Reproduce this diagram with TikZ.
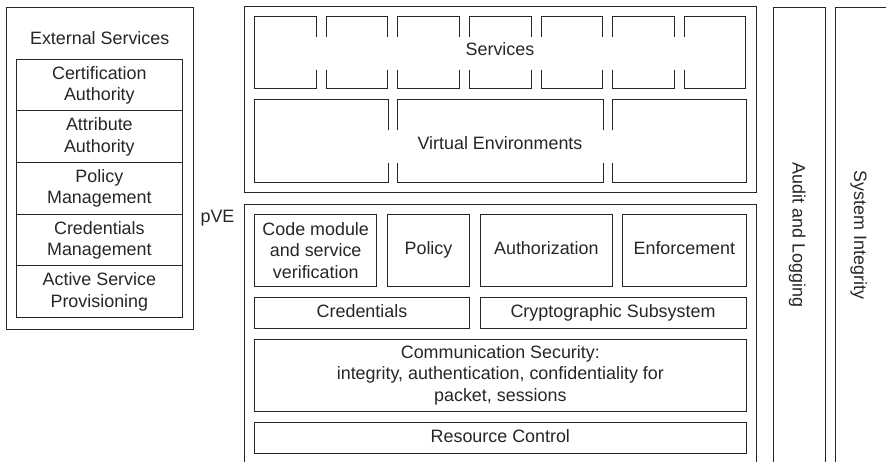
\documentclass[tikz,border=0pt]{standalone}
\usepackage{fontspec}
\setmainfont{Liberation Sans}
\begin{document}
\begin{tikzpicture}[x=1pt,y=-1pt,
  every node/.style={font=\fontsize{17.9}{21.5}\selectfont, text=black!85, inner sep=0pt, outer sep=0pt},
  box/.style={draw=black!85, line width=1pt, align=center, anchor=north west},
  one/.style={text height=12.8pt, text depth=3.8pt},
  lbl/.style={align=center},
  band/.style={fill=white, draw=none}
]
\useasboundingbox (0,0) rectangle (886,462);
\clip (0,0) rectangle (886,462);

% External services panel
\node[box, minimum width=187.3pt, minimum height=322pt] (ext) at (6,7.3) {};
\node[lbl, one] (extlbl) at (99.7,40) {External Services};
\node[box, minimum width=166.7pt, minimum height=51.7pt] (ca) at (16,59.3) {Certification\\Authority};
\node[box, minimum width=166.7pt, minimum height=51.7pt] (aa) at (16,111) {Attribute\\Authority};
\node[box, minimum width=166.7pt, minimum height=51.7pt] (pm) at (16,162.7) {Policy\\Management};
\node[box, minimum width=166.7pt, minimum height=51.7pt] (cm) at (16,214.3) {Credentials\\Management};
\node[box, minimum width=166.7pt, minimum height=51.7pt] (asp) at (16,266) {Active Service\\Provisioning};

\node[lbl, one] (pve) at (217.5,218) {pVE};

% upper box
\node[box, minimum width=512pt, minimum height=186pt] (upper) at (244,7) {};
\foreach \i in {0,...,6}{
  \node[box, minimum width=61.6pt, minimum height=72pt] (s\i) at ({254.7+\i*71.6},17) {};
}
\node[band, minimum width=477pt, minimum height=33pt, anchor=north west] (sband) at (262,37) {};
\node[lbl, one] (svc) at (500,51.5) {Services};

\node[box, minimum width=133.3pt, minimum height=83pt] (ve1) at (254.7,100) {};
\node[box, minimum width=205.1pt, minimum height=83pt] (ve2) at (397.9,100) {};
\node[box, minimum width=133.3pt, minimum height=83pt] (ve3) at (612.7,100) {};
\node[band, minimum width=477pt, minimum height=33pt, anchor=north west] (vband) at (262,130) {};
\node[lbl, one] (vel) at (500,145.5) {Virtual Environments};

% lower box
\node[box, minimum width=512pt, minimum height=280pt] (lower) at (244,205) {};
\node[box, minimum width=122pt, minimum height=72.4pt] (code) at (254.7,214.3) {Code module\\and service\\verification};
\node[box, one, minimum width=81.6pt, minimum height=72.4pt] (pol) at (387.7,214.3) {Policy};
\node[box, one, minimum width=132.7pt, minimum height=72.4pt] (auth) at (480,214.3) {Authorization};
\node[box, one, minimum width=123.3pt, minimum height=72.4pt] (enf) at (622.7,214.3) {Enforcement};
\node[box, one, minimum width=214.6pt, minimum height=30.6pt] (cred) at (254.7,297.7) {Credentials};
\node[box, one, minimum width=266pt, minimum height=30.6pt] (crypto) at (480,297.7) {Cryptographic Subsystem};
\node[box, minimum width=491.3pt, minimum height=72pt] (comm) at (254.7,339) {Communication Security:\\integrity, authentication, confidentiality for\\packet, sessions};
\node[box, one, minimum width=491.3pt, minimum height=31pt] (res) at (254.7,422.3) {Resource Control};

% right columns
\node[box, minimum width=52pt, minimum height=480pt] (audit) at (773.3,7.3) {};
\node[lbl, one, rotate=-90] (auditl) at (797,235) {Audit and Logging};
\node[box, minimum width=60pt, minimum height=480pt] (sysint) at (835.5,7.3) {};
\node[lbl, one, rotate=-90] (sysl) at (858.5,235) {System Integrity};
\end{tikzpicture}
\end{document}
